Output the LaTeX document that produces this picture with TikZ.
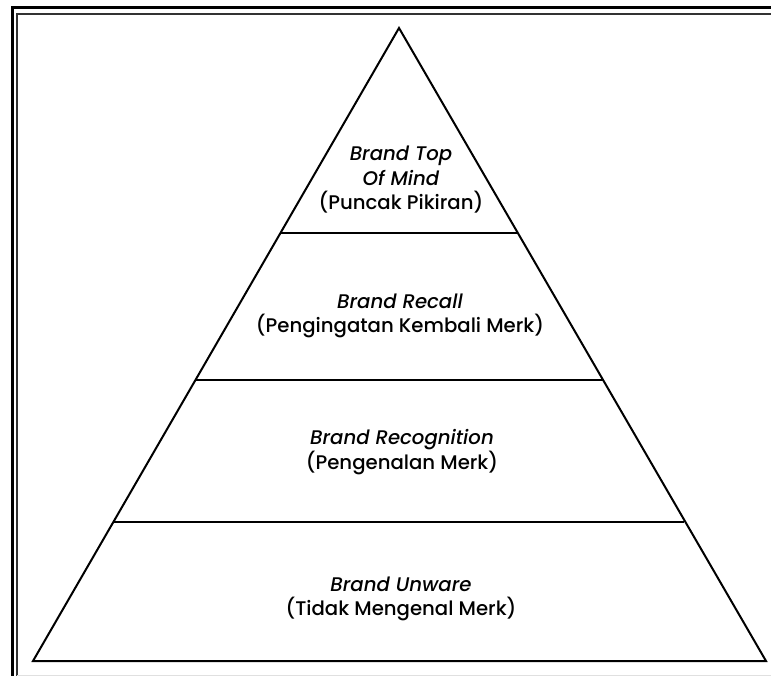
\documentclass[tikz,border=0pt]{standalone}
\usepackage{fontspec}
\setmainfont{Poppins Medium}[ItalicFont=Poppins Medium Italic]
\begin{document}
\begin{tikzpicture}[x=1pt,y=-1pt,
  lvl/.style={align=center,font=\fontsize{19.7}{24.5}\selectfont,inner sep=0pt},
  tri/.style={draw=black,line width=2pt,line join=miter},
  sep/.style={draw=black,line width=1.4pt}]
\useasboundingbox (0,0) rectangle (771,676);
% frame
\draw[line width=3pt] (12,676) -- (12,8) -- (771,8);
\draw[line width=2pt,black!80] (17,676) -- (17,14) -- (771,14);
\draw[line width=1pt,black!12] (17,675) -- (771,675);
% pyramid
\coordinate (apex) at (399,28);
\coordinate (bl) at (33,661);
\coordinate (br) at (766,661);
\draw[tri] (apex) -- (br) -- (bl) -- cycle;
\draw[sep] (280,233) -- (518,233);
\draw[sep] (196,380) -- (603,380);
\draw[sep] (114,522) -- (684,522);
\node[lvl] (top) at (401,180) {\textit{Brand Top}\\\textit{Of Mind}\\(Puncak Pikiran)};
\node[lvl] (recall) at (400,316) {\textit{Brand Recall}\\(Pengingatan Kembali Merk)};
\node[lvl] (recog) at (402,452) {\textit{Brand Recognition}\\(Pengenalan Merk)};
\node[lvl] (unware) at (401,599) {\textit{Brand Unware}\\(Tidak Mengenal Merk)};
\end{tikzpicture}
\end{document}
